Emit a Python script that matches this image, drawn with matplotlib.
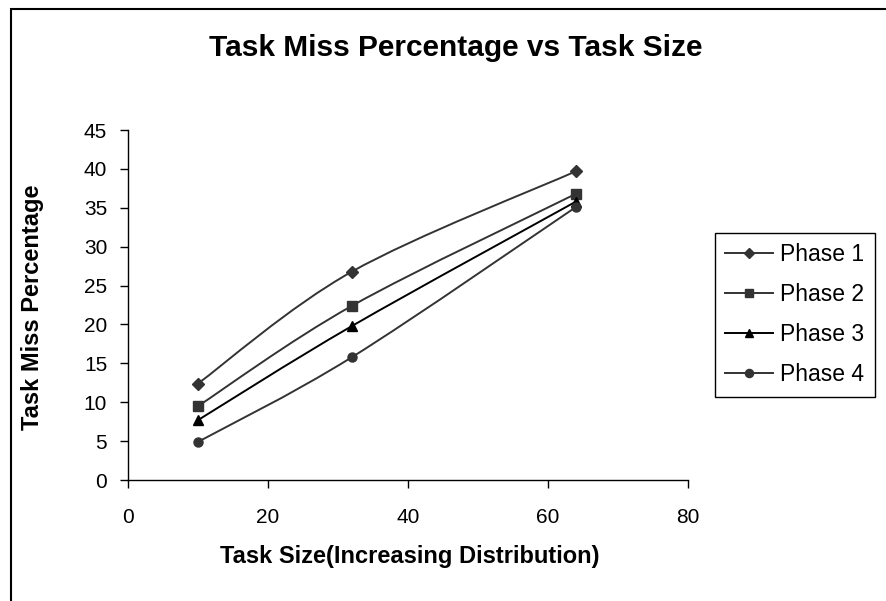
import numpy as np
import matplotlib
matplotlib.use('Agg')
import matplotlib.pyplot as plt
from matplotlib.path import Path
from matplotlib.patches import PathPatch, Rectangle
from matplotlib.lines import Line2D

plt.rcParams['font.family'] = ['Liberation Sans', 'DejaVu Sans']

# data
task_size = [10, 32, 64]
phase1 = [12.4, 26.8, 39.7]
phase2 = [9.5, 22.4, 36.8]
phase3 = [7.7, 19.8, 35.8]
phase4 = [4.9, 15.8, 35.1]
series_names = ['Phase 1', 'Phase 2', 'Phase 3', 'Phase 4']
x_ticks = [0, 20, 40, 60, 80]
y_ticks = [0, 5, 10, 15, 20, 25, 30, 35, 40, 45]


def smooth_path(xs, ys):
    # Excel-like smoothed line: Catmull-Rom converted to cubic bezier
    pts = np.column_stack([xs, ys]).astype(float)
    n = len(pts)
    verts = [pts[0]]
    codes = [Path.MOVETO]
    for i in range(n - 1):
        p0 = pts[i - 1] if i > 0 else pts[i]
        p1 = pts[i]
        p2 = pts[i + 1]
        p3 = pts[i + 2] if i + 2 < n else pts[i + 1]
        c1 = p1 + (p2 - p0) / 6.0
        c2 = p2 - (p3 - p1) / 6.0
        verts += [c1, c2, p2]
        codes += [Path.CURVE4] * 3
    return Path(verts, codes)


W, H = 886, 601
fig = plt.figure(figsize=(W / 100, H / 100), dpi=100)
ax = fig.add_axes([128 / W, 1 - 480 / H, 560 / W, 350 / H])

# outer chart border (runs off right and bottom edges)
fig.patches.append(Rectangle((11 / W, -0.05), 1.1, 1 - 9 / H + 0.05,
                             transform=fig.transFigure, fill=False,
                             edgecolor='black', linewidth=1.5))

styles = [
    dict(color='#333333', marker='D', ms=5.8),
    dict(color='#333333', marker='s', ms=6.5),
    dict(color='black', marker='^', ms=7.0),
    dict(color='#333333', marker='o', ms=6.5),
]
all_series = [phase1, phase2, phase3, phase4]

handles = []
for name, ys, st in zip(series_names, all_series, styles):
    ax.add_patch(PathPatch(smooth_path(task_size, ys), fill=False,
                           edgecolor=st['color'], linewidth=1.4, zorder=2))
    ax.plot(task_size, ys, linestyle='none', marker=st['marker'],
            ms=st['ms'], color=st['color'], zorder=3)
    handles.append(Line2D([], [], color=st['color'], linewidth=1.4,
                          marker=st['marker'], ms=st['ms'] * 0.9, label=name))

ax.set_xlim(0, 80)
ax.set_ylim(0, 45)
ax.set_xticks(x_ticks)
ax.set_yticks(y_ticks)
for s in ['top', 'right']:
    ax.spines[s].set_visible(False)
for s in ['left', 'bottom']:
    ax.spines[s].set_linewidth(1.0)
ax.tick_params(direction='out', length=6, width=1.0, labelsize=15)
ax.tick_params(axis='y', pad=9)
ax.tick_params(axis='x', pad=14)

fig.text(456 / W, 1 - 48 / H, 'Task Miss Percentage vs Task Size',
         ha='center', va='center', fontsize=21.5, fontweight='bold')
fig.text(410 / W, 1 - 557 / H, 'Task Size(Increasing Distribution)',
         ha='center', va='center', fontsize=17, fontweight='bold')
fig.text(33 / W, 1 - 307 / H, 'Task Miss Percentage', rotation=90,
         ha='center', va='center', fontsize=17, fontweight='bold')

fig.legend(handles=handles, loc='upper left',
           bbox_to_anchor=(715 / W, 1 - 233 / H), borderaxespad=0,
           fancybox=False, edgecolor='black', framealpha=1, fontsize=16.5,
           handlelength=2.1, handletextpad=0.3, labelspacing=0.74,
           borderpad=0.45)

fig.savefig('out.png', dpi=100)
